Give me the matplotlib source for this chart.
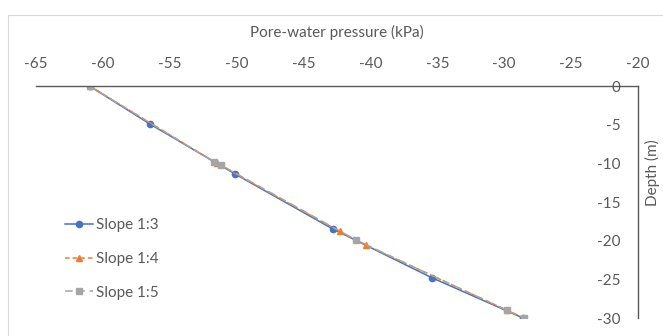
import matplotlib
matplotlib.use("Agg")
import matplotlib.pyplot as plt
from matplotlib.patches import Rectangle

plt.rcParams['font.family'] = ['Lato', 'DejaVu Sans']

# Data
s13_x = [-61.0, -56.5, -50.1, -42.8, -35.4, -28.6]
s13_y = [0, -4.9, -11.4, -18.5, -24.8, -30.0]
s14_x = [-61.0, -51.5, -42.3, -40.3, -29.8, -28.5]
s14_y = [0, -10.0, -18.8, -20.6, -29.0, -30.0]
s15_x = [-61.0, -51.7, -51.2, -41.1, -29.8, -28.5]
s15_y = [0, -9.8, -10.2, -19.9, -29.0, -30.0]
x_ticks = [-65, -60, -55, -50, -45, -40, -35, -30, -25, -20]
y_ticks = [0, -5, -10, -15, -20, -25, -30]

W, H = 663, 336
fig = plt.figure(figsize=(W / 100, H / 100), dpi=100)
fig.patches.append(Rectangle((8 / W, -0.1), 1.2, 1 - 15 / H + 0.1, transform=fig.transFigure,
                             fill=False, edgecolor='#d9d9d9', linewidth=0.8))

left, right, top, bottom = 36 / W, 638 / W, 86 / H, 318 / H
ax = fig.add_axes([left, 1 - bottom, right - left, bottom - top])

tc = '#595959'
fs = 11
ax.plot(s13_x, s13_y, color='#4472C4', lw=1.1, marker='o', ms=4.5, label='Slope 1:3')
ax.plot(s14_x, s14_y, color='#ED7D31', lw=1.1, ls=(0, (3, 2)), marker='^', ms=5, label='Slope 1:4')
ax.plot(s15_x, s15_y, color='#A5A5A5', lw=1.1, ls=(0, (5, 3)), marker='s', ms=4.5, label='Slope 1:5')

ax.set_xlim(-65, -20)
ax.set_ylim(-30, 0)
ax.set_xticks(x_ticks)
ax.set_yticks(y_ticks)
ax.set_xticklabels([str(v) for v in x_ticks])
ax.set_yticklabels([str(v) for v in y_ticks])

for s in ['left', 'bottom']:
    ax.spines[s].set_visible(False)
for s in ['top', 'right']:
    ax.spines[s].set_color('#595959')
    ax.spines[s].set_linewidth(1.0)

ax.xaxis.tick_top()
ax.xaxis.set_label_position('top')
ax.tick_params(axis='x', length=0, pad=11, labelsize=fs, colors=tc)
ax.yaxis.tick_right()
ax.yaxis.set_label_position('right')
ax.tick_params(axis='y', length=0, pad=-12.5, labelsize=fs, colors=tc)
for lab in ax.get_yticklabels():
    lab.set_horizontalalignment('right')

ax.set_xlabel('Pore-water pressure (kPa)', fontsize=fs, color=tc, labelpad=14)
ax.set_ylabel('Depth (m)', fontsize=fs, color=tc)
ax.yaxis.set_label_coords(1.012, 0.625)

leg = ax.legend(loc='upper left', bbox_to_anchor=(59 / W, 1 - 212 / H), bbox_transform=fig.transFigure,
                frameon=False, fontsize=fs, labelspacing=1.3, handlelength=1.8, handletextpad=0.2,
                borderaxespad=0)
for t in leg.get_texts():
    t.set_color(tc)

fig.savefig('out.png', dpi=100)
